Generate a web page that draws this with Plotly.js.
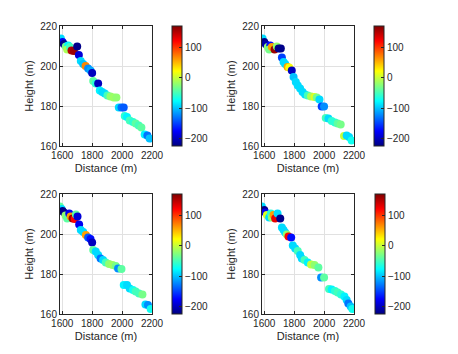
<!DOCTYPE html>
<html>
<head>
<meta charset="utf-8">
<script src="https://cdn.plot.ly/plotly-3.0.1.min.js"></script>
<style>
  html, body { margin: 0; padding: 0; background: #fff; }
  #plot { width: 458px; height: 354px; }
</style>
</head>
<body>
<div id="plot"></div>
<script>
// subplot 1 (top left)
var dist1 = [1591, 1602, 1611, 1624, 1640, 1633, 1651, 1662, 1678, 1700, 1711, 1724, 1740, 1756, 1773, 1789, 1800, 1807, 1824, 1840, 1851, 1867, 1884, 1902, 1922, 1944, 1962, 1978, 1996, 2011, 2018, 2033, 2051, 2073, 2091, 2111, 2129, 2151, 2169, 2184];
var height1 = [213.7, 212, 211, 209.8, 210.3, 208.2, 209.5, 207.8, 207.5, 209.8, 205.5, 202.5, 201, 200, 198.7, 197.8, 196.5, 192.5, 191.2, 191.2, 187.8, 187, 186.2, 185.3, 184.8, 184.2, 184.2, 179.2, 179.2, 179.2, 175, 174.5, 172.8, 172, 171.2, 170.3, 169.2, 165.8, 165.3, 163.7];
var val1 = [-90, -180, -220, -30, -80, -10, -50, 150, 160, -220, -190, -90, -100, 70, -120, -110, -200, -40, -60, -200, -80, -90, -90, -50, -20, -15, -20, -90, -130, -140, -60, -80, -50, -60, -40, -50, -40, -80, -130, -100];

// subplot 2 (top right)
var dist2 = [1589, 1600, 1611, 1624, 1640, 1633, 1651, 1669, 1684, 1696, 1711, 1718, 1729, 1740, 1756, 1767, 1784, 1796, 1811, 1824, 1840, 1856, 1873, 1891, 1913, 1936, 1951, 1969, 1984, 2000, 2011, 2029, 2051, 2073, 2091, 2111, 2133, 2151, 2167, 2184];
var height2 = [213.7, 212, 210.8, 209.5, 210.3, 208.2, 209.5, 208.2, 209.8, 208.7, 208.7, 204.2, 202, 201, 199.5, 199.2, 197.8, 194.5, 192, 190.3, 188.7, 187, 185.8, 185.3, 184.8, 184.5, 184.2, 183.2, 179.8, 179.8, 174, 173.7, 172.5, 171.7, 171.2, 170.7, 165, 165.3, 164.5, 162.8];
var val2 = [-90, -220, -210, -20, -170, -30, 60, 160, -20, -220, -220, -150, -90, -90, 60, 20, -200, -100, -90, -90, -90, -90, -90, -50, -10, 10, -30, -90, -150, -120, -50, -90, -60, -60, -40, -30, 0, -90, -90, -70];

// subplot 3 (bottom left)
var dist3 = [1584, 1596, 1602, 1611, 1622, 1633, 1647, 1656, 1669, 1684, 1691, 1702, 1713, 1724, 1740, 1758, 1773, 1789, 1800, 1807, 1824, 1840, 1856, 1873, 1891, 1913, 1936, 1958, 1973, 1996, 2011, 2033, 2051, 2073, 2091, 2113, 2136, 2156, 2173, 2191];
var height3 = [213.7, 212.5, 211.5, 210.8, 209.2, 207.8, 210.3, 208.7, 207.8, 207.5, 209.8, 208.7, 204.8, 202, 201, 199.5, 198.2, 197.5, 195.8, 192, 191.2, 189.5, 187.8, 187, 185.8, 185, 184.5, 184, 182.8, 182.5, 174.5, 174.5, 172.8, 172, 171.2, 170.3, 169.8, 164.8, 164.5, 162.5];
var val3 = [-40, -90, -220, -220, -20, -40, -180, 60, 160, 120, -40, -190, -180, -90, -90, 60, -140, -170, -200, -40, -90, -90, -130, -90, -50, -20, -15, -30, -120, -40, -80, -90, -90, -70, -50, -50, -30, -90, -120, -70];

// subplot 4 (bottom right)
var dist4 = [1584, 1600, 1607, 1618, 1633, 1644, 1651, 1662, 1673, 1689, 1707, 1718, 1729, 1740, 1751, 1762, 1780, 1791, 1807, 1824, 1840, 1851, 1869, 1891, 1913, 1936, 1962, 1980, 2000, 2033, 2051, 2073, 2091, 2113, 2136, 2151, 2162, 2178, 2189];
var height4 = [213.7, 212, 210.8, 209.5, 208.2, 210.3, 208.2, 209.5, 207.8, 210.3, 207.8, 203.2, 202, 200.8, 199.8, 198.7, 198.2, 194.2, 192.8, 191.5, 189.5, 187.8, 187, 185.8, 184.8, 184.5, 183.3, 178.2, 178.2, 172.5, 172.3, 171.5, 170.7, 169.8, 168.7, 167, 165.3, 163.7, 162.5];
var val4 = [-90, -220, -180, 10, -90, -60, -20, 60, 130, -90, -220, -90, -90, -90, -20, 120, -170, -90, -90, -50, -90, -90, -50, -80, 0, -20, -40, -120, -40, -50, -80, -60, -50, -60, -80, -90, -130, -100, -70];

var xTicks = [1600, 1800, 2000, 2200];
var yTicks = [160, 180, 200, 220];
var cTicks = [-200, -100, 0, 100];

// matlab jet
var jet = [
  [0, 'rgb(0,0,128)'],
  [0.125, 'rgb(0,0,255)'],
  [0.375, 'rgb(0,255,255)'],
  [0.625, 'rgb(255,255,0)'],
  [0.875, 'rgb(255,0,0)'],
  [1, 'rgb(128,0,0)']
];

var W = 458, H = 354;
var ink = '#262626';
var fnt = {family: 'Liberation Sans, Arial, sans-serif', size: 10, color: ink};
var tfnt = {family: 'Liberation Sans, Arial, sans-serif', size: 11, color: ink};

// pixel boxes of the four axes
var boxes = [
  {x0: 60, x1: 152, y0: 26, y1: 146, cb: 172},
  {x0: 262, x1: 354, y0: 26, y1: 146, cb: 374},
  {x0: 60, x1: 152, y0: 194, y1: 314, cb: 172},
  {x0: 262, x1: 354, y0: 194, y1: 314, cb: 375}
];
var xs = [dist1, dist2, dist3, dist4];
var ys = [height1, height2, height3, height4];
var cs = [val1, val2, val3, val4];

var data = [];
var layout = {
  width: W, height: H,
  margin: {l: 0, r: 0, t: 0, b: 0},
  paper_bgcolor: '#fff',
  plot_bgcolor: '#fff',
  showlegend: false,
  font: fnt
};

for (var i = 0; i < 4; i++) {
  var b = boxes[i];
  var n = i === 0 ? '' : String(i + 1);
  data.push({
    x: xs[i], y: ys[i],
    xaxis: 'x' + n, yaxis: 'y' + n,
    type: 'scatter', mode: 'markers',
    marker: {
      size: 8,
      color: cs[i],
      colorscale: jet,
      cmin: -224, cmax: 171,
      line: {width: 0},
      colorbar: {
        x: b.cb / W, xanchor: 'left',
        y: 1 - b.y1 / H, yanchor: 'bottom',
        len: (b.y1 - b.y0) / H, lenmode: 'fraction',
        thickness: 10, thicknessmode: 'pixels',
        xpad: 0, ypad: 0,
        outlinewidth: 1, outlinecolor: ink,
        tickvals: cTicks,
        ticks: 'inside', ticklen: 3, tickcolor: ink,
        tickfont: fnt
      }
    },
    hoverinfo: 'skip'
  });
  layout['xaxis' + n] = {
    domain: [b.x0 / W, b.x1 / W],
    anchor: 'y' + n,
    range: [1585, 2200],
    tickvals: xTicks,
    showgrid: true, gridcolor: '#e1e1e1', gridwidth: 1,
    zeroline: false,
    showline: true, mirror: 'ticks', linecolor: ink, linewidth: 1,
    ticks: 'inside', ticklen: 3, tickcolor: ink,
    tickfont: fnt,
    title: {text: 'Distance (m)', font: tfnt, standoff: 4}
  };
  layout['yaxis' + n] = {
    domain: [1 - b.y1 / H, 1 - b.y0 / H],
    anchor: 'x' + n,
    range: [160, 220],
    tickvals: yTicks,
    showgrid: true, gridcolor: '#e1e1e1', gridwidth: 1,
    zeroline: false,
    showline: true, mirror: 'ticks', linecolor: ink, linewidth: 1,
    ticks: 'inside', ticklen: 3, tickcolor: ink,
    tickfont: fnt,
    title: {text: 'Height (m)', font: tfnt, standoff: 4}
  };
}

Plotly.newPlot('plot', data, layout, {staticPlot: true});
</script>
</body>
</html>
